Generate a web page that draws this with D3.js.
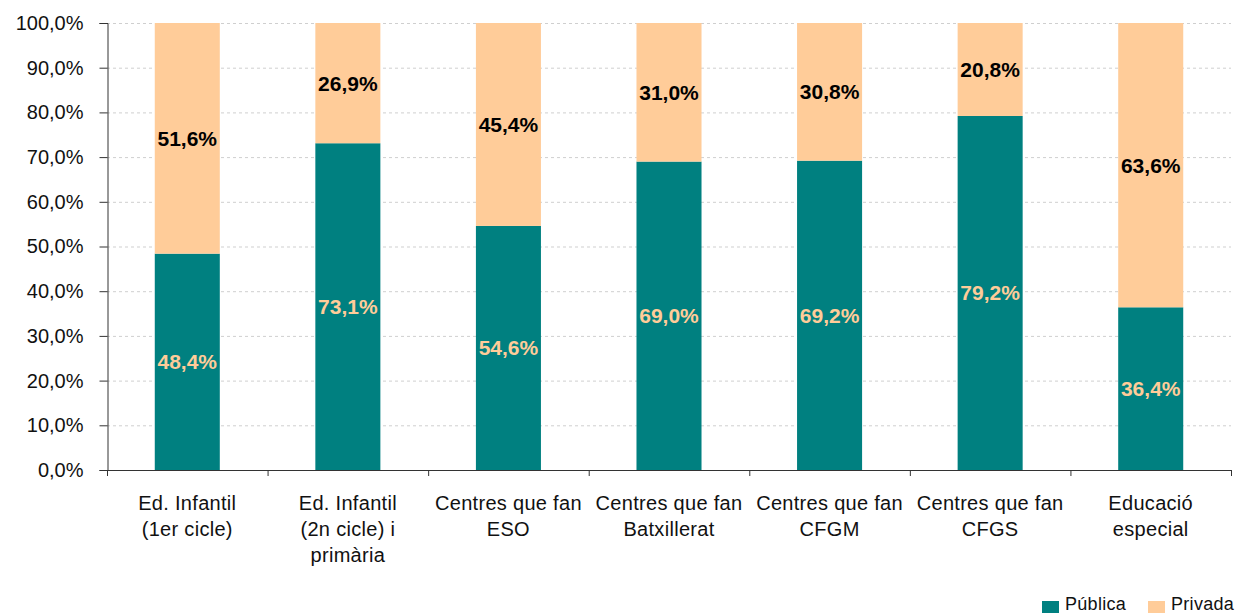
<!DOCTYPE html>
<html><head><meta charset="utf-8">
<script src="https://cdn.jsdelivr.net/npm/d3@7"></script>
<style>body{margin:0;background:#fff}svg{display:block;font-family:"Liberation Sans",Arial,sans-serif}</style>
</head><body><svg id="c" width="1237" height="615"></svg>
<script>
const categories = [["Ed. Infantil","(1er cicle)"],["Ed. Infantil","(2n cicle) i","primària"],["Centres que fan","ESO"],["Centres que fan","Batxillerat"],["Centres que fan","CFGM"],["Centres que fan","CFGS"],["Educació","especial"]];
const publica = [48.4,73.1,54.6,69.0,69.2,79.2,36.4];
const privada = [51.6,26.9,45.4,31.0,30.8,20.8,63.6];
const yTicks = [0,10,20,30,40,50,60,70,80,90,100];
const seriesNames = ["Pública","Privada"];
const colors = ["#008080","#FFCC99"];

const svg = d3.select("#c");
const m = {l:107,r:1231,t:23,b:470};
const x = d3.scaleBand().domain(d3.range(categories.length)).range([m.l,m.r]).paddingInner(0.595).paddingOuter(0.2975);
const y = d3.scaleLinear().domain([0,100]).range([m.b,m.t]);
const fmt = v => d3.format(".1f")(v).replace(".",",")+"%";

// grid
svg.append("g").selectAll("line").data(yTicks.filter(d=>d>0)).join("line")
  .attr("x1",m.l).attr("x2",m.r).attr("y1",d=>y(d)+0.5).attr("y2",d=>y(d)+0.5)
  .attr("stroke","#cfcfcf").attr("stroke-dasharray","3,3");

// bars
const data = categories.map((c,i)=>({i,pub:publica[i],pri:privada[i]}));
const g = svg.append("g");
g.selectAll(".pub").data(data).join("rect")
  .attr("x",d=>x(d.i)).attr("width",x.bandwidth())
  .attr("y",d=>y(d.pub)).attr("height",d=>y(0)-y(d.pub)).attr("fill",colors[0]);
g.selectAll(".pri").data(data).join("rect")
  .attr("x",d=>x(d.i)).attr("width",x.bandwidth())
  .attr("y",d=>y(d.pub+d.pri)).attr("height",d=>y(d.pub)-y(d.pub+d.pri)).attr("fill",colors[1]);

// labels
g.selectAll(".lp").data(data).join("text")
  .attr("x",d=>x(d.i)+x.bandwidth()/2).attr("y",d=>y(d.pub/2)+7.5)
  .attr("text-anchor","middle").attr("font-weight","bold").attr("font-size",21)
  .attr("fill","#FFCC99").text(d=>fmt(d.pub));
g.selectAll(".lr").data(data).join("text")
  .attr("x",d=>x(d.i)+x.bandwidth()/2).attr("y",d=>y(d.pub+d.pri/2)+7.5)
  .attr("text-anchor","middle").attr("font-weight","bold").attr("font-size",21)
  .attr("fill","#000").text(d=>fmt(d.pri));

// y axis
const ya = svg.append("g").attr("transform",`translate(${m.l+0.5},0)`)
  .call(d3.axisLeft(y).tickValues(yTicks).tickFormat(fmt).tickSize(8).tickPadding(16));
ya.select(".domain").attr("stroke","#333");
ya.selectAll(".tick line").attr("stroke","#333");
ya.selectAll("text").attr("font-size",20).attr("fill","#111").style("font-family","'Liberation Sans',Arial,sans-serif");

// x axis
const step = x.step();
svg.append("line").attr("x1",m.l).attr("x2",m.r).attr("y1",m.b+0.5).attr("y2",m.b+0.5).attr("stroke","#333");
svg.append("g").selectAll("line").data(d3.range(categories.length+1)).join("line")
  .attr("x1",d=>m.l+d*step+0.5).attr("x2",d=>m.l+d*step+0.5)
  .attr("y1",m.b).attr("y2",m.b+6).attr("stroke","#333");
const xl = svg.append("g").selectAll("text").data(categories).join("text")
  .attr("x",(d,i)=>x(i)+x.bandwidth()/2).attr("y",510)
  .attr("text-anchor","middle").attr("font-size",20).attr("fill","#111").attr("letter-spacing",0.3);
xl.each(function(d){
  const t=d3.select(this);
  d.forEach((s,k)=>t.append("tspan").attr("x",t.attr("x")).attr("dy",k?26:0).text(s));
});

// legend
const lg = svg.append("g").attr("font-size",18).attr("fill","#111").attr("letter-spacing",0.3);
const lx = [1042,1148];
seriesNames.forEach((s,i)=>{
  lg.append("rect").attr("x",lx[i]).attr("y",601).attr("width",17).attr("height",12).attr("fill",colors[i]);
  lg.append("text").attr("x",lx[i]+23).attr("y",610).text(s);
});
</script></body></html>
